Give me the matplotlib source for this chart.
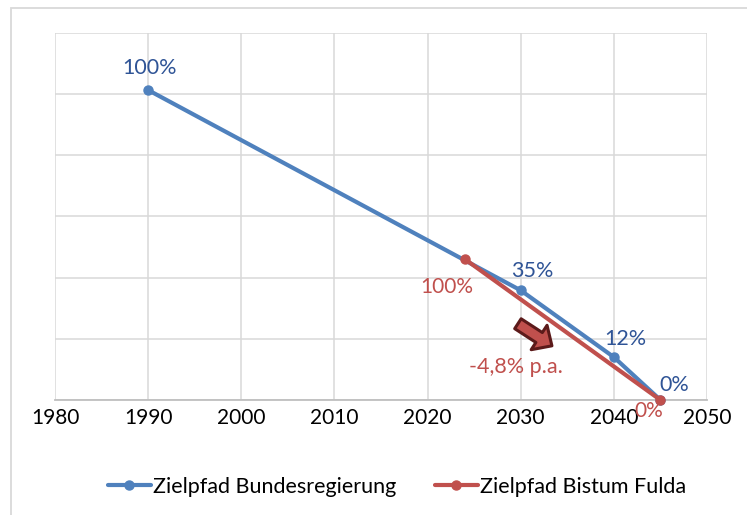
import matplotlib
matplotlib.use("Agg")
import matplotlib.pyplot as plt
from matplotlib.patches import FancyArrowPatch, Rectangle

plt.rcParams['font.family'] = ['Lato', 'DejaVu Sans']

# Data
years_bund = [1990, 2030, 2040, 2045]
vals_bund = [5.06, 1.79, 0.70, 0.0]
labels_bund = ["100%", "35%", "12%", "0%"]

years_fulda = [2024, 2045]
vals_fulda = [2.30, 0.0]
labels_fulda = ["100%", "0%"]

x_ticks = [1980, 1990, 2000, 2010, 2020, 2030, 2040, 2050]
y_ticks = [0, 1, 2, 3, 4, 5, 6]

series_names = ["Zielpfad Bundesregierung", "Zielpfad Bistum Fulda"]
rate_label = "-4,8% p.a."

BLUE = '#4F81BD'
RED = '#C0504D'
BLUE_TXT = '#2F5496'
RED_TXT = '#C0504D'
GRID = '#D9D9D9'
FS = 15.5

W, H = 747, 515
fig = plt.figure(figsize=(W/100, H/100), dpi=100)

# outer chart frame
fig.patches.append(Rectangle((11/W, -0.05), 1.2, 1 - 8/H + 0.05, transform=fig.transFigure,
                             fill=False, ec=GRID, lw=1.3))

ax = fig.add_axes([55/W, 1 - 400/H, (707-55)/W, (400-32.5)/H])
ax.set_xlim(1980, 2050)
ax.set_ylim(0, 6)
ax.set_xticks(x_ticks)
ax.set_yticks(y_ticks)
ax.set_yticklabels([])
ax.tick_params(axis='both', length=0)
ax.tick_params(axis='x', labelsize=15, pad=5.5, colors='black')
ax.grid(True, color=GRID, lw=1.1)
ax.set_axisbelow(True)
for s in ['top', 'right', 'left']:
    ax.spines[s].set_visible(False)
ax.spines['bottom'].set_color('#BFBFBF')
ax.spines['bottom'].set_linewidth(1.3)

ax.plot(years_bund, vals_bund, color=BLUE, lw=3.0, marker='o', ms=6.5,
        label=series_names[0], zorder=3, clip_on=False, solid_capstyle='round')
ax.plot(years_fulda, vals_fulda, color=RED, lw=3.0, marker='o', ms=6.5,
        label=series_names[1], zorder=4, clip_on=False, solid_capstyle='round')

# data labels (offsets in points)
bund_offsets = [(1, 16), (8, 14), (8, 13), (10, 11)]
for x, y, t, (dx, dy) in zip(years_bund, vals_bund, labels_bund, bund_offsets):
    ax.annotate(t, (x, y), xytext=(dx, dy), textcoords='offset points',
                ha='center', va='center', fontsize=FS, color=BLUE_TXT, zorder=5)
fulda_offsets = [(-13, -20), (-8.5, -8)]
for x, y, t, (dx, dy) in zip(years_fulda, vals_fulda, labels_fulda, fulda_offsets):
    ax.annotate(t, (x, y), xytext=(dx, dy), textcoords='offset points',
                ha='center', va='center', fontsize=15, color=RED_TXT, zorder=5,
                annotation_clip=False)

ax.text(2029.5, 0.54, rate_label, ha='center', va='center', fontsize=FS, color=RED_TXT)

arrow = FancyArrowPatch((2029.45, 1.27), (2033.6, 0.86),
                        arrowstyle='simple,head_length=1.1,head_width=2.1,tail_width=0.85',
                        mutation_scale=10, fc=RED, ec='#5C1A1A', lw=2.2, zorder=6)
ax.add_patch(arrow)

leg = fig.legend(loc='center', bbox_to_anchor=(397/W, 1 - 487/H), ncol=2, frameon=False,
                 fontsize=FS, handlelength=2.0, handletextpad=0.1, columnspacing=1.8)

fig.savefig('out.png', dpi=100)
